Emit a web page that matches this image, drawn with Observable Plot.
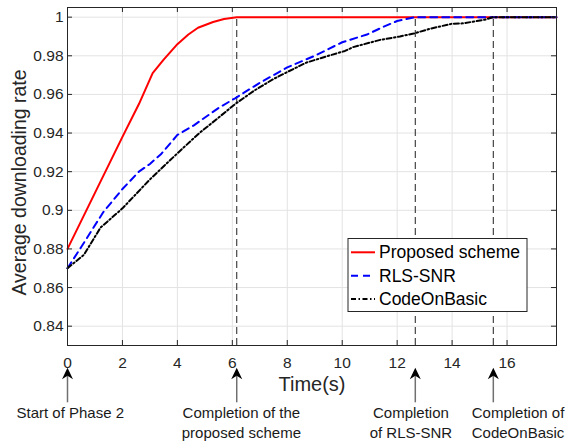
<!DOCTYPE html>
<html>
<head>
<meta charset="utf-8">
<script src="https://cdn.jsdelivr.net/npm/d3@7"></script>
<script src="https://cdn.jsdelivr.net/npm/@observablehq/plot@0.6"></script>
<style>
  html, body { margin: 0; padding: 0; background: #fff; }
  #chart { width: 567px; height: 441px; position: relative; }
</style>
</head>
<body>
<div id="chart"></div>
<script>
// ---- data ----
const seriesNames = ["Proposed scheme", "RLS-SNR", "CodeOnBasic"];

const proposedT = [0, 1, 2, 2.6, 3.1, 3.5, 4.0, 4.4, 4.75, 5.3, 5.7, 6.16, 17.8];
const proposedV = [0.88, 0.909, 0.938, 0.955, 0.971, 0.978, 0.986, 0.991, 0.9945, 0.9975, 0.999, 1.0, 1.0];

const rlsT = [0, 0.5, 1.3, 2.0, 2.6, 3.0, 3.4, 4.0, 4.6, 5.5, 6.1, 7.0, 8.0, 9.0, 10.0, 10.9, 11.5, 12.0, 12.66, 17.8];
const rlsV = [0.87, 0.881, 0.899, 0.911, 0.92, 0.924, 0.929, 0.939, 0.944, 0.953, 0.958, 0.966, 0.974, 0.980, 0.987, 0.991, 0.995, 0.998, 1.0, 1.0];

const cobT = [0, 0.6, 1.2, 2.0, 3.0, 4.0, 4.8, 5.5, 6.1, 6.8, 7.5, 8.0, 8.7, 9.5, 10.1, 10.4, 11.4, 12.1, 12.6, 13.2, 14.0, 14.4, 15.2, 15.5, 17.8];
const cobV = [0.87, 0.877, 0.891, 0.901, 0.916, 0.9295, 0.940, 0.948, 0.955, 0.962, 0.968, 0.9716, 0.9765, 0.980, 0.9825, 0.9845, 0.9883, 0.990, 0.9915, 0.994, 0.9966, 0.9968, 0.9987, 1.0, 1.0];

const xTicks = [0, 2, 4, 6, 8, 10, 12, 14, 16];
const yTicks = [0.84, 0.86, 0.88, 0.9, 0.92, 0.94, 0.96, 0.98, 1];

const completionTimes = [6.16, 12.66, 15.5];
const arrowTimes = [0, 6.16, 12.66, 15.5];
const annotationLabels = ["Start of Phase 2", "Completion of the\nproposed scheme", "Completion\nof RLS-SNR", "Completion of\nCodeOnBasic"];
const annotationLabelTimes = [0.1, 6.33, 12.5, 16.4];

const xLabel = "Time(s)";
const yLabel = "Average downloading rate";

// ---- build tables ----
const toRows = (ts, vs) => ts.map((t, i) => ({t, v: vs[i]}));
const proposed = toRows(proposedT, proposedV);
const rls = toRows(rlsT, rlsV);
const cob = toRows(cobT, cobV);
const annotations = annotationLabels.map((label, i) => ({label, t: annotationLabelTimes[i]}));

const W = 567, H = 441, mL = 67, mR = 11, mT = 7, mB = 96;
const fw = W - mL - mR, fh = H - mT - mB;
const ink = "#262626";
const font = "'Liberation Sans', Arial, Helvetica, sans-serif";
const fmt = d3.format("~g");

const arrowHead = {draw(ctx) { ctx.moveTo(0, 0); ctx.lineTo(5.5, 11.5); ctx.lineTo(0, 8); ctx.lineTo(-5.5, 11.5); ctx.closePath(); }};
const arrowShaft = {draw(ctx) { ctx.moveTo(0, 8); ctx.lineTo(0, 34.5); }};

const chart = Plot.plot({
  width: W, height: H,
  marginLeft: mL, marginRight: mR, marginTop: mT, marginBottom: mB,
  x: {domain: [0, 17.8]},
  y: {domain: [0.83, 1.005]},
  style: {fontFamily: font, fontSize: "15.5px", color: ink, background: "#fff", overflow: "visible"},
  marks: [
    Plot.gridX(xTicks, {stroke: "#e3e3e3", strokeOpacity: 1}),
    Plot.gridY(yTicks, {stroke: "#e3e3e3", strokeOpacity: 1}),
    Plot.ruleX(completionTimes, {y1: 0.83, y2: 1, stroke: "#333", strokeWidth: 1.1, strokeDasharray: "7,4"}),
    Plot.line(proposed, {x: "t", y: "v", stroke: "#ff0000", strokeWidth: 2}),
    Plot.line(rls, {x: "t", y: "v", stroke: "#0000ff", strokeWidth: 2, strokeDasharray: "7,5"}),
    Plot.line(cob, {x: "t", y: "v", stroke: "#000", strokeWidth: 2, strokeDasharray: "5,2.5,1.5,2.5"}),
    Plot.frame({stroke: ink, strokeWidth: 1}),
    // inward ticks on all four sides
    Plot.gridX(xTicks, {insetTop: fh - 5, stroke: ink, strokeOpacity: 1}),
    Plot.gridX(xTicks, {insetBottom: fh - 5, stroke: ink, strokeOpacity: 1}),
    Plot.gridY(yTicks, {insetRight: fw - 5, stroke: ink, strokeOpacity: 1}),
    Plot.gridY(yTicks, {insetLeft: fw - 5, stroke: ink, strokeOpacity: 1}),
    Plot.axisX(xTicks, {tickSize: 0, tickPadding: 11, label: null, fill: ink, tickFormat: fmt}),
    Plot.axisY(yTicks, {tickSize: 0, tickPadding: 4, label: null, fill: ink, tickFormat: fmt}),
    Plot.text([xLabel], {frameAnchor: "bottom", dy: 45, fontSize: 20, fill: ink}),
    Plot.text([yLabel], {frameAnchor: "left", textAnchor: "middle", rotate: -90, dx: -48, dy: 6, fontSize: 19.5, fill: ink}),
    // annotation arrows below the axis
    Plot.dot(arrowTimes, {x: d => d, frameAnchor: "bottom", dy: 22.3, symbol: arrowShaft, stroke: "#707070", strokeWidth: 1.5, fill: "none", r: 5}),
    Plot.dot(arrowTimes, {x: d => d, frameAnchor: "bottom", dy: 22.3, symbol: arrowHead, fill: "#000", stroke: "none", r: 5}),
    Plot.text(annotations, {x: "t", text: "label", frameAnchor: "bottom", dy: 58.6, lineAnchor: "top", lineHeight: 1.333, fontSize: 15, fill: "#1a1a1a"})
  ]
});

// legend
const svg = d3.select(chart);
const lg = svg.append("g").attr("font-family", font).attr("font-size", 17.5).attr("text-anchor", "start");
lg.append("rect").attr("x", 348).attr("y", 238.5).attr("width", 179).attr("height", 73)
  .attr("fill", "#fff").attr("stroke", ink).attr("stroke-width", 1);
const legendStyles = [
  {stroke: "#ff0000", dash: null},
  {stroke: "#0000ff", dash: "7,5"},
  {stroke: "#000", dash: "5,2.5,1.5,2.5"}
];
seriesNames.forEach((name, i) => {
  const y = 252.3 + i * 23.4;
  lg.append("line").attr("x1", 351).attr("x2", 375).attr("y1", y).attr("y2", y)
    .attr("stroke", legendStyles[i].stroke).attr("stroke-width", 2)
    .attr("stroke-dasharray", legendStyles[i].dash);
  lg.append("text").attr("x", 379).attr("y", y).attr("dy", "0.35em").attr("fill", "#000")
    .attr("text-anchor", "start").text(name);
});

document.getElementById("chart").appendChild(chart);
</script>
</body>
</html>
